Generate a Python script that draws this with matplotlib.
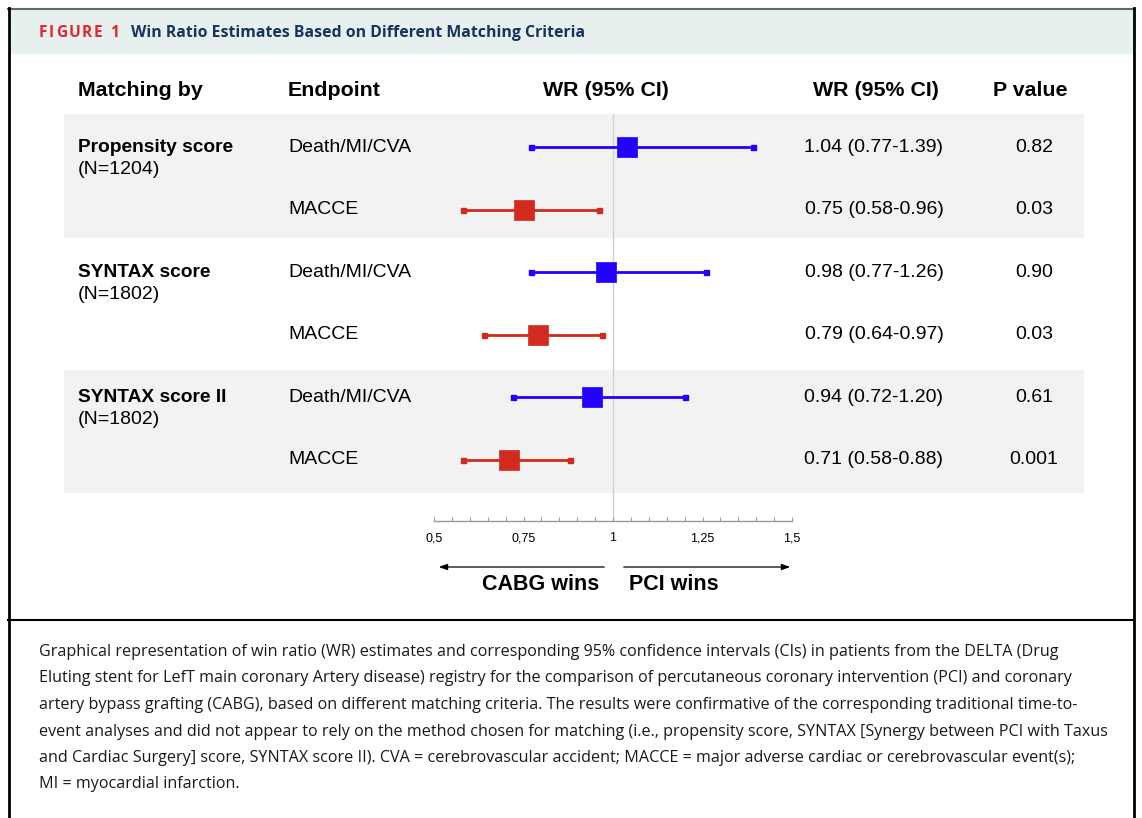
import matplotlib
matplotlib.use("Agg")
import matplotlib.pyplot as plt
from matplotlib.ticker import FixedLocator, FixedFormatter, MultipleLocator

# ---------------- data ----------------
groups = ["Propensity score", "SYNTAX score", "SYNTAX score II"]
group_n = ["(N=1204)", "(N=1802)", "(N=1802)"]
endpoints = ["Death/MI/CVA", "MACCE"] * 3
wr = [1.04, 0.75, 0.98, 0.79, 0.94, 0.71]
ci_low = [0.77, 0.58, 0.77, 0.64, 0.72, 0.58]
ci_high = [1.39, 0.96, 1.26, 0.97, 1.20, 0.88]
wr_text = ["1.04 (0.77-1.39)", "0.75 (0.58-0.96)", "0.98 (0.77-1.26)",
           "0.79 (0.64-0.97)", "0.94 (0.72-1.20)", "0.71 (0.58-0.88)"]
p_text = ["0.82", "0.03", "0.90", "0.03", "0.61", "0.001"]
xticks = [0.5, 0.75, 1.0, 1.25, 1.5]
xtick_labels = ["0,5", "0,75", "1", "1,25", "1,5"]

caption_lines = [
    "Graphical representation of win ratio (WR) estimates and corresponding 95% confidence intervals (CIs) in patients from the DELTA (Drug",
    "Eluting stent for LefT main coronary Artery disease) registry for the comparison of percutaneous coronary intervention (PCI) and coronary",
    "artery bypass grafting (CABG), based on different matching criteria. The results were confirmative of the corresponding traditional time-to-",
    "event analyses and did not appear to rely on the method chosen for matching (i.e., propensity score, SYNTAX [Synergy between PCI with Taxus",
    "and Cardiac Surgery] score, SYNTAX score II). CVA = cerebrovascular accident; MACCE = major adverse cardiac or cerebrovascular event(s);",
    "MI = myocardial infarction.",
]

BLUE = "#2200ff"
RED = "#d22a1e"
colors = [BLUE, RED] * 3

W, H = 1142, 818
fig = plt.figure(figsize=(W / 100, H / 100), dpi=100)
fig.patch.set_facecolor("white")

# background / layout axes in pixel units
bg = fig.add_axes([0, 0, 1, 1])
bg.set_xlim(0, W)
bg.set_ylim(H, 0)
bg.axis("off")

SANS = "Liberation Sans"
CAP = "Open Sans"

# frame & title band
bg.add_patch(plt.Rectangle((9, 9), 1125, 45, facecolor="#e8f0ef", edgecolor="none", zorder=0))
bg.plot([8, 1134], [8.5, 8.5], color="#666666", lw=1.5, zorder=2)
bg.plot([8.5, 8.5], [8, H], color="black", lw=2, zorder=2)
bg.plot([1134, 1134], [8, H], color="black", lw=2, zorder=2)
bg.plot([8, 1134], [620, 620], color="black", lw=1.5, zorder=2)

# letter-spaced "FIGURE 1"
renderer = fig.canvas.get_renderer()
xcur = 39.0
tracking = 1.6
for ch in "FIGURE 1":
    t = bg.text(xcur, 33, ch, color="#e0262e", fontsize=11.2, fontweight="bold",
                family=CAP, va="center", ha="left")
    if ch == " ":
        w = 4.0
    else:
        w = t.get_window_extent(renderer=renderer).width
    xcur += w + tracking

bg.text(131, 33, "Win Ratio Estimates Based on Different Matching Criteria",
        color="#17335f", fontsize=11.4, fontweight="bold", family=CAP, va="center", ha="left")

# shaded bands
for (y0, y1) in [(114, 238), (370, 493)]:
    bg.add_patch(plt.Rectangle((64, y0), 1020, y1 - y0, facecolor="#f2f2f2",
                               edgecolor="none", zorder=0))

# headers
hdr_y = 90
HFS = 15.4
bg.text(78, hdr_y, "Matching by", fontsize=HFS, fontweight="bold", family=SANS, va="center")
bg.text(288, hdr_y, "Endpoint", fontsize=HFS, fontweight="bold", family=SANS, va="center")
bg.text(606, hdr_y, "WR (95% CI)", fontsize=HFS, fontweight="bold", family=SANS, va="center", ha="center")
bg.text(876, hdr_y, "WR (95% CI)", fontsize=HFS, fontweight="bold", family=SANS, va="center", ha="center")
bg.text(1030, hdr_y, "P value", fontsize=HFS, fontweight="bold", family=SANS, va="center", ha="center")

# forest axes
top_px, bot_px = 114, 521
ax = fig.add_axes([434 / W, 1 - bot_px / H, 358 / W, (bot_px - top_px) / H])
ax.patch.set_alpha(0)
row_px0, row_step = 147, 62.6
ax.set_ylim((bot_px - row_px0) / row_step, (top_px - row_px0) / row_step)
ax.set_xlim(0.5, 1.5)
ax.axvline(1.0, color="#cfcfcf", lw=1.0, zorder=1)

rows = list(range(len(wr)))
for i in rows:
    ax.plot([ci_low[i], ci_high[i]], [i, i], color=colors[i], lw=2, zorder=3,
            solid_capstyle="butt")
    ax.plot([ci_low[i], ci_high[i]], [i, i], ls="none", marker="s", ms=3.6,
            color=colors[i], mec=colors[i], zorder=4)
    ax.plot([wr[i]], [i], ls="none", marker="s", ms=15, color=colors[i],
            mec=colors[i], mew=0.5, zorder=5)

for s in ["top", "left", "right"]:
    ax.spines[s].set_visible(False)
ax.spines["bottom"].set_color("#9a9a9a")
ax.spines["bottom"].set_linewidth(1.0)
ax.set_yticks([])
ax.xaxis.set_major_locator(FixedLocator(xticks))
ax.xaxis.set_major_formatter(FixedFormatter(xtick_labels))
ax.xaxis.set_minor_locator(MultipleLocator(0.05))
ax.tick_params(axis="x", which="both", direction="in", color="#9a9a9a",
               length=3, width=0.8, labelsize=9, pad=8)
for lab in ax.get_xticklabels():
    lab.set_family(SANS)

# table text per row
FS = 14
for i in rows:
    y = row_px0 + i * row_step
    bg.text(288, y, endpoints[i], fontsize=FS, family=SANS, va="center")
    bg.text(874, y, wr_text[i], fontsize=FS, family=SANS, va="center", ha="center")
    bg.text(1034, y, p_text[i], fontsize=FS, family=SANS, va="center", ha="center")
for g in range(len(groups)):
    y = row_px0 + 2 * g * row_step
    bg.text(78, y, groups[g], fontsize=13.8, fontweight="bold", family=SANS, va="center")
    bg.text(78, y + 22, group_n[g], fontsize=FS, family=SANS, va="center")

# direction arrows
bg.annotate("", xy=(436, 567), xytext=(607, 567),
            arrowprops=dict(arrowstyle="-|>,head_length=0.5,head_width=0.18", color="black", lw=0.9))
bg.annotate("", xy=(793, 567), xytext=(621, 567),
            arrowprops=dict(arrowstyle="-|>,head_length=0.5,head_width=0.18", color="black", lw=0.9))
bg.text(541, 585, "CABG wins", fontsize=15.5, fontweight="bold", family=SANS, va="center", ha="center")
bg.text(674, 585, "PCI wins", fontsize=15.5, fontweight="bold", family=SANS, va="center", ha="center")

# caption
for k, line in enumerate(caption_lines):
    bg.text(39, 652 + k * 26.5, line, fontsize=11.6, family=CAP, va="center", ha="left",
            color="#1a1a1a")

fig.savefig("out.png", dpi=100)
